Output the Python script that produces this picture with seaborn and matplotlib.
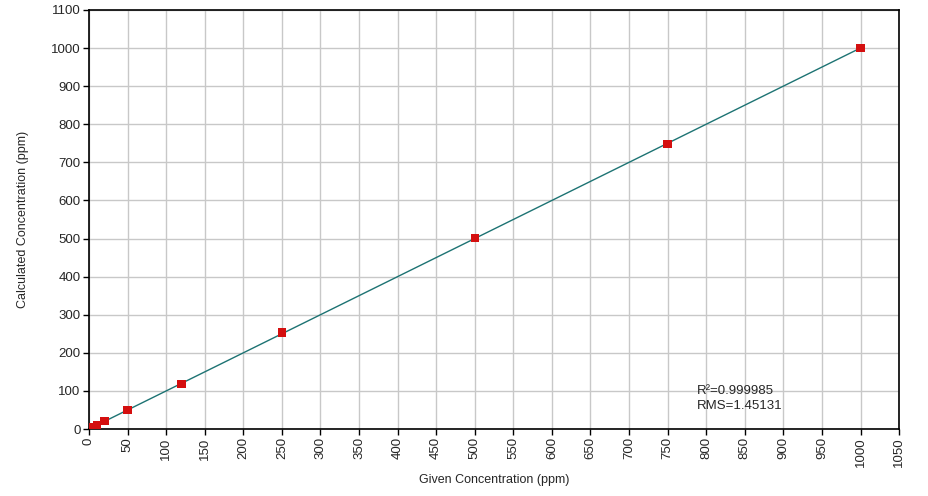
import numpy as np
import pandas as pd
import matplotlib
matplotlib.use('Agg')
import matplotlib.pyplot as plt
import seaborn as sns

given = [1, 2.5, 5, 10, 20, 50, 120, 250, 500, 750, 1000]
calculated = [1, 3, 5, 10, 21, 50, 119, 253, 502, 748, 1000]
fit_x = [1, 1000]
fit_y = [1, 1000]
x_ticks = list(range(0, 1051, 50))
y_ticks = list(range(0, 1101, 100))
r2_text = 'R²=0.999985\nRMS=1.45131'

sns.set_style('white')
plt.rcParams['font.family'] = ['Liberation Sans', 'DejaVu Sans']

df = pd.DataFrame({'Given': given, 'Calculated': calculated})
df_fit = pd.DataFrame({'Given': fit_x, 'Calculated': fit_y})

fig = plt.figure(figsize=(9.29, 4.96), dpi=100)
ax = fig.add_axes([0.0958, 0.135, 0.872, 0.845])

sns.lineplot(data=df_fit, x='Given', y='Calculated', color='#1d7373',
             linewidth=1.0, ax=ax, zorder=2)
sns.scatterplot(data=df, x='Given', y='Calculated', marker='s', s=36,
                color='#d40f0f', edgecolor='none', ax=ax, zorder=3)

ax.set_xlim(0, 1050)
ax.set_ylim(0, 1100)
ax.set_xticks(x_ticks)
ax.set_yticks(y_ticks)
ax.set_xticklabels([str(t) for t in x_ticks], rotation=90, fontsize=9.5)
ax.set_yticklabels([str(t) for t in y_ticks], fontsize=9.5)
ax.tick_params(axis='both', direction='out', length=4, width=1, color='black',
               bottom=True, left=True, pad=2)
ax.grid(True, color='#c8c8c8', linewidth=1)
ax.set_axisbelow(True)
for sp in ax.spines.values():
    sp.set_color('black')
    sp.set_linewidth(1.2)

ax.set_xlabel('Given Concentration (ppm)', fontsize=9, labelpad=5)
ax.set_ylabel('Calculated Concentration (ppm)', fontsize=9, labelpad=16)
ax.text(788, 115, r2_text, fontsize=9.5, va='top', linespacing=1.35)

fig.savefig('out.png', dpi=100)
